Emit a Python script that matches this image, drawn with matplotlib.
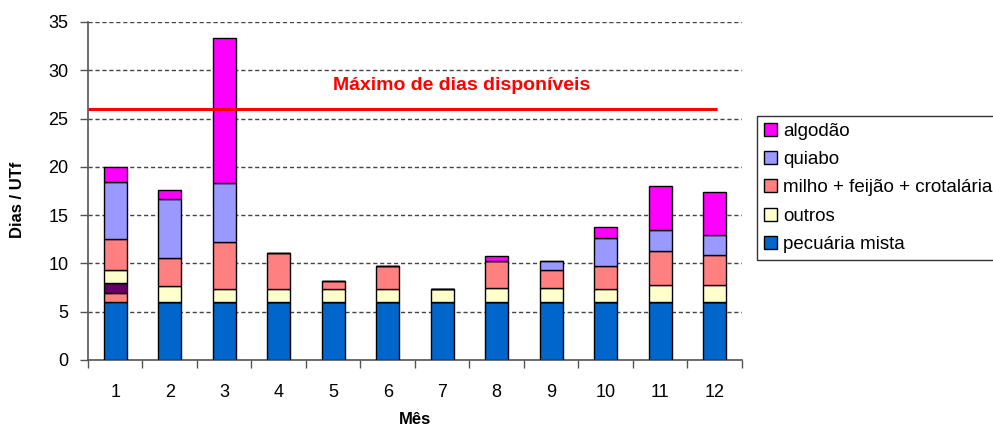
import matplotlib
matplotlib.use("Agg")
import matplotlib.pyplot as plt
import numpy as np

plt.rcParams['font.family'] = ['Liberation Sans', 'DejaVu Sans']

months = [1, 2, 3, 4, 5, 6, 7, 8, 9, 10, 11, 12]
pecuaria = [6.0, 6.0, 6.0, 6.0, 6.0, 6.0, 6.0, 6.0, 6.0, 6.0, 6.0, 6.0]
milho_a = [0.9, 0, 0, 0, 0, 0, 0, 0, 0, 0, 0, 0]
extra = [1.1, 0, 0, 0, 0, 0, 0, 0, 0, 0, 0, 0]
outros = [1.35, 1.7, 1.35, 1.35, 1.35, 1.35, 1.35, 1.45, 1.45, 1.35, 1.75, 1.75]
milho = [3.15, 2.9, 4.85, 3.7, 0.85, 2.4, 0, 2.8, 1.85, 2.4, 3.55, 3.15]
quiabo = [5.9, 6.1, 6.1, 0, 0, 0, 0, 0, 0.95, 2.9, 2.2, 2.0]
algodao = [1.6, 0.95, 15.0, 0, 0, 0, 0, 0.5, 0, 1.1, 4.5, 4.5]
max_days = 26

series = [
    (pecuaria, '#0066CC', 'pecuária mista'),
    (milho_a, '#FF8080', None),
    (extra, '#660066', None),
    (outros, '#FFFFCC', 'outros'),
    (milho, '#FF8080', 'milho + feijão + crotalária'),
    (quiabo, '#9999FF', 'quiabo'),
    (algodao, '#FF00FF', 'algodão'),
]

fig = plt.figure(figsize=(9.93, 4.30), dpi=100)
ax = fig.add_axes([88/993, 70/430, 654/993, 338/430])

x = np.array(months)
bottom = np.zeros(len(months))
handles = []
for vals, col, lab in series:
    v = np.array(vals, dtype=float)
    b = ax.bar(x, v, 0.42, bottom=bottom, color=col, edgecolor='black',
               linewidth=1.0, zorder=3)
    if lab:
        handles.append((b, lab))
    bottom += v

ax.hlines(max_days, 0.5, 12.04, color='#FF0000', linewidth=2.2, zorder=4)
ax.text(0.572, 0.812, 'Máximo de dias disponíveis', transform=ax.transAxes,
        color='#FF0000', fontsize=14, fontweight='bold', ha='center', va='center')

ax.set_xlim(0.5, 12.5)
ax.set_ylim(0, 35)
ax.set_yticks(np.arange(0, 36, 5))
ax.set_xticks(x)
ax.set_xticks(np.arange(0.5, 12.6, 1), minor=True)
ax.tick_params(axis='x', which='major', length=0, pad=17, labelsize=13)
ax.tick_params(axis='x', which='minor', length=6, width=1, color='#555555')
ax.tick_params(axis='y', length=6, width=1, color='#555555', pad=8, labelsize=13)

ax.yaxis.grid(True, linestyle=(0, (3, 2)), color='#444444', linewidth=1.0, zorder=0)
ax.set_axisbelow(True)
for s in ['top', 'right']:
    ax.spines[s].set_visible(False)
for s in ['left', 'bottom']:
    ax.spines[s].set_color('#555555')
    ax.spines[s].set_linewidth(1.2)

ax.set_ylabel('Dias / UTf', fontsize=12, fontweight='bold')
ax.yaxis.set_label_coords(-0.096, 0.473)
ax.set_xlabel('Mês', fontsize=12, fontweight='bold')
ax.xaxis.set_label_coords(0.5, -0.155)

hs = [h for h, l in handles][::-1]
ls = [l for h, l in handles][::-1]
leg = fig.legend(hs, ls, loc='upper left', bbox_to_anchor=(757/993, 1 - 116/430),
                 fontsize=13.5, frameon=True, fancybox=False, edgecolor='black',
                 handlelength=0.7, handleheight=0.7, handletextpad=0.33,
                 labelspacing=0.6, borderpad=0.35, borderaxespad=0)
leg.get_frame().set_linewidth(1.0)

fig.savefig('out.png', dpi=100)
